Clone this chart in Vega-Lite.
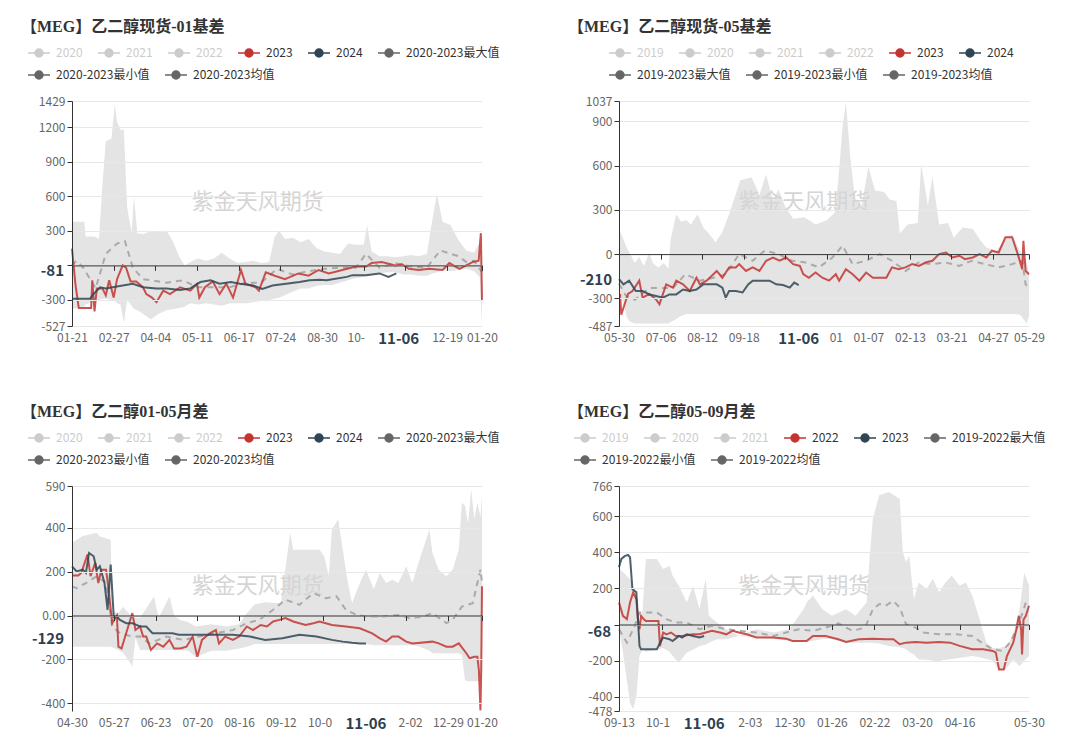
{
"$schema": "https://vega.github.io/schema/vega-lite/v6.json",
"background": "white",
"padding": {"left": 21, "top": 19, "right": 0, "bottom": 0},
"columns": 2,
"spacing": {"row": 160, "column": 137},
"bounds": "flush",
"resolve": {"scale": {"color": "independent", "stroke": "independent"}, "legend": {"color": "independent", "stroke": "independent"}},
"datasets": {
"b1": [{"t":0,"lo":-380,"hi":380},{"t":11,"lo":-360,"hi":380},{"t":12,"lo":-340,"hi":250},{"t":20,"lo":-310,"hi":250},{"t":24,"lo":-300,"hi":230},{"t":27,"lo":-290,"hi":700},{"t":30,"lo":-290,"hi":1080},{"t":35,"lo":-300,"hi":1100},{"t":38,"lo":-310,"hi":1400},{"t":40,"lo":-330,"hi":1250},{"t":43,"lo":-340,"hi":1180},{"t":46,"lo":-500,"hi":1180},{"t":49,"lo":-300,"hi":500},{"t":53,"lo":-350,"hi":280},{"t":55,"lo":-380,"hi":600},{"t":58,"lo":-390,"hi":280},{"t":63,"lo":-420,"hi":270},{"t":70,"lo":-470,"hi":300},{"t":77,"lo":-420,"hi":290},{"t":84,"lo":-390,"hi":300},{"t":90,"lo":-380,"hi":200},{"t":95,"lo":-370,"hi":80},{"t":100,"lo":-360,"hi":0},{"t":105,"lo":-330,"hi":30},{"t":112,"lo":-340,"hi":60},{"t":119,"lo":-330,"hi":40},{"t":126,"lo":-340,"hi":60},{"t":133,"lo":-350,"hi":110},{"t":140,"lo":-330,"hi":60},{"t":147,"lo":-330,"hi":20},{"t":154,"lo":-330,"hi":30},{"t":161,"lo":-320,"hi":40},{"t":168,"lo":-310,"hi":20},{"t":175,"lo":-300,"hi":30},{"t":180,"lo":-290,"hi":250},{"t":184,"lo":-280,"hi":300},{"t":189,"lo":-260,"hi":230},{"t":196,"lo":-230,"hi":240},{"t":203,"lo":-200,"hi":200},{"t":210,"lo":-200,"hi":230},{"t":217,"lo":-180,"hi":150},{"t":224,"lo":-170,"hi":120},{"t":231,"lo":-170,"hi":110},{"t":238,"lo":-150,"hi":100},{"t":245,"lo":-130,"hi":190},{"t":252,"lo":-110,"hi":180},{"t":259,"lo":-100,"hi":180},{"t":262,"lo":-90,"hi":350},{"t":266,"lo":-80,"hi":120},{"t":273,"lo":-70,"hi":80},{"t":280,"lo":-60,"hi":80},{"t":287,"lo":-60,"hi":70},{"t":294,"lo":-80,"hi":80},{"t":301,"lo":-80,"hi":90},{"t":308,"lo":-90,"hi":80},{"t":315,"lo":-90,"hi":100},{"t":320,"lo":-70,"hi":400},{"t":324,"lo":-60,"hi":620},{"t":329,"lo":-40,"hi":380},{"t":336,"lo":-50,"hi":350},{"t":343,"lo":-40,"hi":220},{"t":350,"lo":-30,"hi":130},{"t":357,"lo":-50,"hi":110},{"t":362,"lo":-100,"hi":200},{"t":364,"lo":-527,"hi":90}],
"m1": [{"t":0,"v":0},{"t":4,"v":40},{"t":10,"v":-20},{"t":21,"v":-200},{"t":30,"v":100},{"t":40,"v":190},{"t":47,"v":210},{"t":54,"v":-20},{"t":63,"v":-120},{"t":84,"v":-150},{"t":98,"v":-130},{"t":112,"v":-190},{"t":126,"v":-190},{"t":140,"v":-190},{"t":154,"v":-150},{"t":168,"v":-150},{"t":182,"v":-30},{"t":196,"v":-80},{"t":210,"v":-50},{"t":224,"v":-30},{"t":238,"v":-20},{"t":252,"v":-20},{"t":261,"v":100},{"t":273,"v":-20},{"t":287,"v":20},{"t":301,"v":-10},{"t":315,"v":-20},{"t":327,"v":130},{"t":343,"v":80},{"t":350,"v":30},{"t":357,"v":40},{"t":364,"v":-60}],
"l1": [{"s":"2023","t":0,"v":145},{"s":"2023","t":3,"v":-160},{"s":"2023","t":6,"v":-370},{"s":"2023","t":17,"v":-370},{"s":"2023","t":18,"v":-130},{"s":"2023","t":20,"v":-400},{"s":"2023","t":22,"v":-200},{"s":"2023","t":27,"v":-200},{"s":"2023","t":30,"v":-260},{"s":"2023","t":33,"v":-130},{"s":"2023","t":37,"v":-280},{"s":"2023","t":40,"v":-120},{"s":"2023","t":45,"v":0},{"s":"2023","t":48,"v":-20},{"s":"2023","t":52,"v":-140},{"s":"2023","t":57,"v":-140},{"s":"2023","t":63,"v":-190},{"s":"2023","t":66,"v":-250},{"s":"2023","t":71,"v":-280},{"s":"2023","t":75,"v":-320},{"s":"2023","t":81,"v":-220},{"s":"2023","t":87,"v":-250},{"s":"2023","t":96,"v":-190},{"s":"2023","t":105,"v":-220},{"s":"2023","t":111,"v":-160},{"s":"2023","t":113,"v":-280},{"s":"2023","t":118,"v":-190},{"s":"2023","t":125,"v":-140},{"s":"2023","t":131,"v":-250},{"s":"2023","t":137,"v":-160},{"s":"2023","t":143,"v":-280},{"s":"2023","t":150,"v":-40},{"s":"2023","t":154,"v":-160},{"s":"2023","t":163,"v":-190},{"s":"2023","t":166,"v":-220},{"s":"2023","t":169,"v":-140},{"s":"2023","t":172,"v":-60},{"s":"2023","t":180,"v":-90},{"s":"2023","t":189,"v":-120},{"s":"2023","t":201,"v":-70},{"s":"2023","t":210,"v":-90},{"s":"2023","t":219,"v":-40},{"s":"2023","t":228,"v":-70},{"s":"2023","t":240,"v":-40},{"s":"2023","t":252,"v":-10},{"s":"2023","t":261,"v":-10},{"s":"2023","t":266,"v":20},{"s":"2023","t":275,"v":30},{"s":"2023","t":287,"v":0},{"s":"2023","t":293,"v":10},{"s":"2023","t":299,"v":-30},{"s":"2023","t":308,"v":-40},{"s":"2023","t":317,"v":-30},{"s":"2023","t":329,"v":-40},{"s":"2023","t":335,"v":20},{"s":"2023","t":344,"v":-30},{"s":"2023","t":350,"v":0},{"s":"2023","t":356,"v":30},{"s":"2023","t":361,"v":40},{"s":"2023","t":363,"v":280},{"s":"2023","t":364,"v":-300},
{"s":"2024","t":0,"v":-290},{"s":"2024","t":16,"v":-290},{"s":"2024","t":19,"v":-250},{"s":"2024","t":25,"v":-190},{"s":"2024","t":30,"v":-200},{"s":"2024","t":45,"v":-175},{"s":"2024","t":54,"v":-160},{"s":"2024","t":63,"v":-190},{"s":"2024","t":75,"v":-200},{"s":"2024","t":84,"v":-200},{"s":"2024","t":96,"v":-215},{"s":"2024","t":105,"v":-200},{"s":"2024","t":114,"v":-145},{"s":"2024","t":123,"v":-130},{"s":"2024","t":131,"v":-160},{"s":"2024","t":141,"v":-145},{"s":"2024","t":149,"v":-160},{"s":"2024","t":161,"v":-175},{"s":"2024","t":169,"v":-205},{"s":"2024","t":178,"v":-175},{"s":"2024","t":190,"v":-160},{"s":"2024","t":202,"v":-145},{"s":"2024","t":211,"v":-130},{"s":"2024","t":220,"v":-125},{"s":"2024","t":226,"v":-130},{"s":"2024","t":244,"v":-100},{"s":"2024","t":249,"v":-85},{"s":"2024","t":261,"v":-85},{"s":"2024","t":273,"v":-70},{"s":"2024","t":281,"v":-100},{"s":"2024","t":288,"v":-70}],
"b2": [{"t":0,"lo":-250,"hi":170},{"t":3,"lo":-300,"hi":120},{"t":7,"lo":-430,"hi":40},{"t":10,"lo":-460,"hi":0},{"t":14,"lo":-470,"hi":-60},{"t":18,"lo":-470,"hi":-20},{"t":22,"lo":-470,"hi":-80},{"t":27,"lo":-470,"hi":10},{"t":30,"lo":-470,"hi":-60},{"t":35,"lo":-470,"hi":-90},{"t":40,"lo":-470,"hi":-60},{"t":44,"lo":-470,"hi":-100},{"t":46,"lo":-460,"hi":100},{"t":51,"lo":-440,"hi":270},{"t":55,"lo":-420,"hi":220},{"t":60,"lo":-405,"hi":230},{"t":64,"lo":-405,"hi":200},{"t":70,"lo":-405,"hi":270},{"t":75,"lo":-405,"hi":180},{"t":80,"lo":-405,"hi":140},{"t":86,"lo":-405,"hi":80},{"t":92,"lo":-405,"hi":150},{"t":98,"lo":-405,"hi":270},{"t":108,"lo":-405,"hi":500},{"t":118,"lo":-405,"hi":520},{"t":125,"lo":-405,"hi":400},{"t":131,"lo":-405,"hi":540},{"t":137,"lo":-405,"hi":360},{"t":142,"lo":-405,"hi":440},{"t":148,"lo":-405,"hi":320},{"t":155,"lo":-405,"hi":240},{"t":165,"lo":-405,"hi":250},{"t":175,"lo":-405,"hi":200},{"t":185,"lo":-405,"hi":230},{"t":192,"lo":-405,"hi":280},{"t":195,"lo":-405,"hi":480},{"t":199,"lo":-405,"hi":860},{"t":202,"lo":-405,"hi":1030},{"t":206,"lo":-405,"hi":650},{"t":210,"lo":-405,"hi":380},{"t":216,"lo":-405,"hi":330},{"t":222,"lo":-405,"hi":590},{"t":228,"lo":-405,"hi":430},{"t":236,"lo":-405,"hi":420},{"t":241,"lo":-405,"hi":370},{"t":247,"lo":-405,"hi":360},{"t":250,"lo":-405,"hi":140},{"t":257,"lo":-405,"hi":200},{"t":266,"lo":-405,"hi":210},{"t":269,"lo":-405,"hi":610},{"t":275,"lo":-405,"hi":330},{"t":279,"lo":-405,"hi":525},{"t":285,"lo":-405,"hi":200},{"t":293,"lo":-405,"hi":210},{"t":298,"lo":-405,"hi":110},{"t":306,"lo":-405,"hi":180},{"t":315,"lo":-405,"hi":170},{"t":322,"lo":-405,"hi":90},{"t":327,"lo":-405,"hi":45},{"t":336,"lo":-405,"hi":20},{"t":345,"lo":-405,"hi":120},{"t":350,"lo":-405,"hi":130},{"t":357,"lo":-410,"hi":20},{"t":363,"lo":-470,"hi":-60},{"t":365,"lo":-420,"hi":-130}],
"m2": [{"t":0,"v":-200},{"t":6,"v":-280},{"t":14,"v":-310},{"t":27,"v":-230},{"t":48,"v":-230},{"t":59,"v":-136},{"t":72,"v":-180},{"t":84,"v":-160},{"t":95,"v":-136},{"t":107,"v":0},{"t":119,"v":-45},{"t":130,"v":25},{"t":142,"v":0},{"t":154,"v":-45},{"t":166,"v":-57},{"t":178,"v":-90},{"t":190,"v":-23},{"t":199,"v":57},{"t":208,"v":-68},{"t":220,"v":-45},{"t":232,"v":0},{"t":243,"v":-45},{"t":255,"v":-114},{"t":267,"v":-57},{"t":279,"v":-68},{"t":291,"v":-57},{"t":303,"v":-80},{"t":314,"v":-45},{"t":326,"v":-68},{"t":338,"v":-90},{"t":350,"v":-68},{"t":359,"v":-45},{"t":362,"v":-205},{"t":365,"v":-230}],
"l2": [{"s":"2023","t":1,"v":-270},{"s":"2023","t":2,"v":-410},{"s":"2023","t":5,"v":-340},{"s":"2023","t":8,"v":-270},{"s":"2023","t":12,"v":-250},{"s":"2023","t":18,"v":-180},{"s":"2023","t":21,"v":-295},{"s":"2023","t":27,"v":-270},{"s":"2023","t":33,"v":-307},{"s":"2023","t":36,"v":-340},{"s":"2023","t":42,"v":-205},{"s":"2023","t":48,"v":-227},{"s":"2023","t":51,"v":-180},{"s":"2023","t":57,"v":-205},{"s":"2023","t":63,"v":-250},{"s":"2023","t":69,"v":-160},{"s":"2023","t":72,"v":-205},{"s":"2023","t":78,"v":-180},{"s":"2023","t":84,"v":-136},{"s":"2023","t":87,"v":-114},{"s":"2023","t":92,"v":-160},{"s":"2023","t":98,"v":-90},{"s":"2023","t":104,"v":-90},{"s":"2023","t":107,"v":-68},{"s":"2023","t":113,"v":-114},{"s":"2023","t":119,"v":-90},{"s":"2023","t":125,"v":-114},{"s":"2023","t":131,"v":-45},{"s":"2023","t":137,"v":-23},{"s":"2023","t":143,"v":-45},{"s":"2023","t":149,"v":-23},{"s":"2023","t":155,"v":-68},{"s":"2023","t":161,"v":-80},{"s":"2023","t":164,"v":-136},{"s":"2023","t":169,"v":-160},{"s":"2023","t":175,"v":-125},{"s":"2023","t":181,"v":-160},{"s":"2023","t":187,"v":-180},{"s":"2023","t":193,"v":-136},{"s":"2023","t":196,"v":-180},{"s":"2023","t":202,"v":-102},{"s":"2023","t":208,"v":-136},{"s":"2023","t":214,"v":-180},{"s":"2023","t":220,"v":-125},{"s":"2023","t":226,"v":-160},{"s":"2023","t":238,"v":-160},{"s":"2023","t":243,"v":-90},{"s":"2023","t":249,"v":-102},{"s":"2023","t":255,"v":-90},{"s":"2023","t":261,"v":-68},{"s":"2023","t":267,"v":-80},{"s":"2023","t":273,"v":-57},{"s":"2023","t":279,"v":-45},{"s":"2023","t":285,"v":0},{"s":"2023","t":291,"v":11},{"s":"2023","t":297,"v":-23},{"s":"2023","t":303,"v":-11},{"s":"2023","t":308,"v":-34},{"s":"2023","t":315,"v":-23},{"s":"2023","t":321,"v":0},{"s":"2023","t":327,"v":-23},{"s":"2023","t":332,"v":23},{"s":"2023","t":338,"v":11},{"s":"2023","t":344,"v":114},{"s":"2023","t":350,"v":114},{"s":"2023","t":355,"v":0},{"s":"2023","t":359,"v":-102},{"s":"2023","t":360,"v":90},{"s":"2023","t":362,"v":-114},{"s":"2023","t":365,"v":-136},
{"s":"2024","t":0,"v":-170},{"s":"2024","t":4,"v":-205},{"s":"2024","t":9,"v":-180},{"s":"2024","t":15,"v":-250},{"s":"2024","t":21,"v":-250},{"s":"2024","t":27,"v":-273},{"s":"2024","t":33,"v":-284},{"s":"2024","t":39,"v":-295},{"s":"2024","t":45,"v":-273},{"s":"2024","t":51,"v":-273},{"s":"2024","t":57,"v":-240},{"s":"2024","t":63,"v":-250},{"s":"2024","t":69,"v":-240},{"s":"2024","t":75,"v":-205},{"s":"2024","t":81,"v":-205},{"s":"2024","t":87,"v":-205},{"s":"2024","t":92,"v":-227},{"s":"2024","t":95,"v":-295},{"s":"2024","t":98,"v":-250},{"s":"2024","t":104,"v":-250},{"s":"2024","t":110,"v":-260},{"s":"2024","t":115,"v":-205},{"s":"2024","t":119,"v":-180},{"s":"2024","t":134,"v":-180},{"s":"2024","t":140,"v":-205},{"s":"2024","t":146,"v":-210},{"s":"2024","t":152,"v":-227},{"s":"2024","t":156,"v":-193},{"s":"2024","t":160,"v":-210}],
"b3": [{"t":0,"lo":-142,"hi":331},{"t":7,"lo":-142,"hi":362},{"t":16,"lo":-142,"hi":377},{"t":18,"lo":-142,"hi":360},{"t":25,"lo":-142,"hi":345},{"t":26,"lo":-145,"hi":20},{"t":30,"lo":-157,"hi":10},{"t":33,"lo":-170,"hi":40},{"t":38,"lo":-220,"hi":0},{"t":39,"lo":-234,"hi":-10},{"t":41,"lo":-100,"hi":-10},{"t":44,"lo":-157,"hi":-10},{"t":53,"lo":-157,"hi":87},{"t":56,"lo":-157,"hi":-10},{"t":63,"lo":-157,"hi":87},{"t":66,"lo":-157,"hi":0},{"t":70,"lo":-157,"hi":-20},{"t":75,"lo":-160,"hi":-30},{"t":80,"lo":-190,"hi":-50},{"t":90,"lo":-160,"hi":-40},{"t":100,"lo":-160,"hi":-50},{"t":108,"lo":-150,"hi":-40},{"t":113,"lo":-142,"hi":10},{"t":118,"lo":-130,"hi":50},{"t":125,"lo":-130,"hi":60},{"t":135,"lo":-130,"hi":56},{"t":141,"lo":-130,"hi":377},{"t":143,"lo":-130,"hi":300},{"t":150,"lo":-130,"hi":300},{"t":160,"lo":-130,"hi":300},{"t":163,"lo":-130,"hi":270},{"t":166,"lo":-130,"hi":180},{"t":168,"lo":-130,"hi":392},{"t":172,"lo":-130,"hi":438},{"t":175,"lo":-130,"hi":300},{"t":178,"lo":-130,"hi":163},{"t":181,"lo":-130,"hi":56},{"t":186,"lo":-130,"hi":148},{"t":190,"lo":-130,"hi":209},{"t":195,"lo":-135,"hi":120},{"t":199,"lo":-135,"hi":194},{"t":203,"lo":-135,"hi":148},{"t":207,"lo":-135,"hi":163},{"t":211,"lo":-135,"hi":148},{"t":216,"lo":-135,"hi":224},{"t":220,"lo":-135,"hi":148},{"t":224,"lo":-140,"hi":240},{"t":231,"lo":-160,"hi":392},{"t":233,"lo":-172,"hi":285},{"t":237,"lo":-172,"hi":209},{"t":242,"lo":-172,"hi":179},{"t":246,"lo":-172,"hi":209},{"t":250,"lo":-172,"hi":300},{"t":252,"lo":-180,"hi":514},{"t":254,"lo":-295,"hi":500},{"t":256,"lo":-300,"hi":420},{"t":258,"lo":-300,"hi":575},{"t":260,"lo":-300,"hi":440},{"t":262,"lo":-300,"hi":514},{"t":264,"lo":-300,"hi":450},{"t":265,"lo":-250,"hi":545}],
"m3": [{"t":0,"v":133},{"t":3,"v":125},{"t":9,"v":148},{"t":16,"v":179},{"t":22,"v":148},{"t":26,"v":-50},{"t":31,"v":-81},{"t":39,"v":-96},{"t":44,"v":-96},{"t":50,"v":-127},{"t":61,"v":-96},{"t":72,"v":-111},{"t":82,"v":-96},{"t":93,"v":-81},{"t":104,"v":-66},{"t":113,"v":-35},{"t":121,"v":-20},{"t":130,"v":26},{"t":138,"v":72},{"t":147,"v":49},{"t":156,"v":102},{"t":164,"v":79},{"t":171,"v":87},{"t":177,"v":26},{"t":184,"v":3},{"t":190,"v":-5},{"t":201,"v":-5},{"t":212,"v":3},{"t":218,"v":-12},{"t":227,"v":-5},{"t":233,"v":11},{"t":242,"v":-35},{"t":246,"v":-20},{"t":252,"v":41},{"t":259,"v":56},{"t":262,"v":148},{"t":264,"v":209},{"t":265,"v":150}],
"l3": [{"s":"2023","t":0,"v":182},{"s":"2023","t":4,"v":182},{"s":"2023","t":6,"v":194},{"s":"2023","t":10,"v":278},{"s":"2023","t":12,"v":179},{"s":"2023","t":15,"v":240},{"s":"2023","t":17,"v":148},{"s":"2023","t":19,"v":209},{"s":"2023","t":22,"v":209},{"s":"2023","t":23,"v":156},{"s":"2023","t":26,"v":-35},{"s":"2023","t":29,"v":0},{"s":"2023","t":30,"v":-142},{"s":"2023","t":32,"v":-150},{"s":"2023","t":35,"v":-81},{"s":"2023","t":39,"v":11},{"s":"2023","t":41,"v":-66},{"s":"2023","t":44,"v":-50},{"s":"2023","t":46,"v":-96},{"s":"2023","t":48,"v":-96},{"s":"2023","t":51,"v":-157},{"s":"2023","t":55,"v":-127},{"s":"2023","t":59,"v":-142},{"s":"2023","t":63,"v":-111},{"s":"2023","t":66,"v":-150},{"s":"2023","t":70,"v":-150},{"s":"2023","t":74,"v":-142},{"s":"2023","t":78,"v":-96},{"s":"2023","t":81,"v":-188},{"s":"2023","t":84,"v":-111},{"s":"2023","t":89,"v":-81},{"s":"2023","t":93,"v":-66},{"s":"2023","t":95,"v":-127},{"s":"2023","t":99,"v":-96},{"s":"2023","t":104,"v":-111},{"s":"2023","t":108,"v":-96},{"s":"2023","t":113,"v":-50},{"s":"2023","t":117,"v":-66},{"s":"2023","t":122,"v":-43},{"s":"2023","t":126,"v":-50},{"s":"2023","t":130,"v":-27},{"s":"2023","t":134,"v":-20},{"s":"2023","t":138,"v":-12},{"s":"2023","t":143,"v":-27},{"s":"2023","t":147,"v":-35},{"s":"2023","t":151,"v":-43},{"s":"2023","t":156,"v":-35},{"s":"2023","t":160,"v":-27},{"s":"2023","t":164,"v":-35},{"s":"2023","t":168,"v":-43},{"s":"2023","t":177,"v":-50},{"s":"2023","t":186,"v":-58},{"s":"2023","t":194,"v":-81},{"s":"2023","t":199,"v":-104},{"s":"2023","t":203,"v":-119},{"s":"2023","t":207,"v":-96},{"s":"2023","t":211,"v":-96},{"s":"2023","t":216,"v":-119},{"s":"2023","t":220,"v":-127},{"s":"2023","t":233,"v":-119},{"s":"2023","t":237,"v":-127},{"s":"2023","t":242,"v":-142},{"s":"2023","t":246,"v":-142},{"s":"2023","t":250,"v":-127},{"s":"2023","t":255,"v":-173},{"s":"2023","t":257,"v":-195},{"s":"2023","t":260,"v":-188},{"s":"2023","t":262,"v":-188},{"s":"2023","t":263,"v":-250},{"s":"2023","t":264,"v":-432},{"s":"2023","t":264.5,"v":-250},{"s":"2023","t":265,"v":133},
{"s":"2024","t":0,"v":224},{"s":"2024","t":3,"v":201},{"s":"2024","t":7,"v":209},{"s":"2024","t":9,"v":194},{"s":"2024","t":11,"v":285},{"s":"2024","t":14,"v":270},{"s":"2024","t":16,"v":209},{"s":"2024","t":18,"v":224},{"s":"2024","t":21,"v":148},{"s":"2024","t":23,"v":26},{"s":"2024","t":25,"v":232},{"s":"2024","t":27,"v":-7},{"s":"2024","t":29,"v":-5},{"s":"2024","t":31,"v":-20},{"s":"2024","t":35,"v":-35},{"s":"2024","t":39,"v":-35},{"s":"2024","t":44,"v":-50},{"s":"2024","t":48,"v":-50},{"s":"2024","t":52,"v":-81},{"s":"2024","t":56,"v":-81},{"s":"2024","t":61,"v":-81},{"s":"2024","t":65,"v":-81},{"s":"2024","t":69,"v":-88},{"s":"2024","t":74,"v":-88},{"s":"2024","t":82,"v":-88},{"s":"2024","t":93,"v":-88},{"s":"2024","t":104,"v":-88},{"s":"2024","t":115,"v":-96},{"s":"2024","t":125,"v":-111},{"s":"2024","t":136,"v":-104},{"s":"2024","t":147,"v":-88},{"s":"2024","t":158,"v":-96},{"s":"2024","t":168,"v":-111},{"s":"2024","t":175,"v":-119},{"s":"2024","t":181,"v":-124},{"s":"2024","t":186,"v":-127},{"s":"2024","t":190,"v":-127}],
"b4": [{"t":0,"lo":-26,"hi":307},{"t":2.5,"lo":-155,"hi":290},{"t":7,"lo":-433,"hi":250},{"t":9,"lo":-470,"hi":200},{"t":11,"lo":-396,"hi":178},{"t":13,"lo":-174,"hi":-7},{"t":15,"lo":-137,"hi":85},{"t":17,"lo":-150,"hi":363},{"t":24,"lo":-140,"hi":363},{"t":28,"lo":-130,"hi":307},{"t":32,"lo":-150,"hi":325},{"t":34,"lo":-174,"hi":270},{"t":38,"lo":-211,"hi":215},{"t":43,"lo":-155,"hi":122},{"t":47,"lo":-140,"hi":215},{"t":51,"lo":-118,"hi":85},{"t":55,"lo":-110,"hi":252},{"t":57,"lo":-100,"hi":48},{"t":62,"lo":-81,"hi":11},{"t":68,"lo":-81,"hi":-26},{"t":76,"lo":-63,"hi":-63},{"t":87,"lo":-70,"hi":-26},{"t":98,"lo":-80,"hi":-44},{"t":108,"lo":-90,"hi":-26},{"t":117,"lo":-95,"hi":85},{"t":119,"lo":-95,"hi":122},{"t":123,"lo":-90,"hi":160},{"t":129,"lo":-80,"hi":85},{"t":135,"lo":-80,"hi":48},{"t":144,"lo":-100,"hi":85},{"t":150,"lo":-100,"hi":48},{"t":157,"lo":-100,"hi":122},{"t":159,"lo":-100,"hi":381},{"t":161,"lo":-100,"hi":585},{"t":165,"lo":-105,"hi":715},{"t":171,"lo":-118,"hi":733},{"t":178,"lo":-125,"hi":696},{"t":180,"lo":-130,"hi":400},{"t":182,"lo":-137,"hi":344},{"t":184,"lo":-150,"hi":381},{"t":187,"lo":-165,"hi":140},{"t":190,"lo":-193,"hi":233},{"t":195,"lo":-195,"hi":196},{"t":199,"lo":-200,"hi":252},{"t":203,"lo":-202,"hi":178},{"t":207,"lo":-195,"hi":233},{"t":211,"lo":-190,"hi":270},{"t":216,"lo":-183,"hi":215},{"t":220,"lo":-180,"hi":233},{"t":224,"lo":-174,"hi":160},{"t":228,"lo":-180,"hi":48},{"t":233,"lo":-190,"hi":-100},{"t":237,"lo":-200,"hi":-130},{"t":241,"lo":-250,"hi":-130},{"t":245,"lo":-250,"hi":-120},{"t":250,"lo":-193,"hi":-63},{"t":254,"lo":-230,"hi":85},{"t":257,"lo":-200,"hi":287},{"t":260,"lo":-174,"hi":215}],
"m4": [{"t":0,"v":-26},{"t":5,"v":-100},{"t":10,"v":-7},{"t":13,"v":67},{"t":17,"v":67},{"t":24,"v":67},{"t":30,"v":30},{"t":36,"v":11},{"t":43,"v":11},{"t":51,"v":-26},{"t":59,"v":-7},{"t":68,"v":-26},{"t":76,"v":-35},{"t":87,"v":-44},{"t":98,"v":-63},{"t":106,"v":-44},{"t":114,"v":-26},{"t":123,"v":-35},{"t":131,"v":-17},{"t":139,"v":7},{"t":148,"v":-35},{"t":156,"v":-17},{"t":161,"v":85},{"t":165,"v":113},{"t":169,"v":104},{"t":174,"v":131},{"t":178,"v":94},{"t":182,"v":2},{"t":188,"v":-17},{"t":193,"v":-44},{"t":203,"v":-54},{"t":214,"v":-54},{"t":224,"v":-63},{"t":230,"v":-100},{"t":237,"v":-137},{"t":243,"v":-146},{"t":248,"v":-100},{"t":252,"v":-26},{"t":256,"v":67},{"t":258,"v":122},{"t":260,"v":122}],
"l4": [{"s":"2022","t":0,"v":122},{"s":"2022","t":2.5,"v":48},{"s":"2022","t":5,"v":30},{"s":"2022","t":7,"v":122},{"s":"2022","t":9,"v":178},{"s":"2022","t":11,"v":140},{"s":"2022","t":12,"v":30},{"s":"2022","t":13,"v":-26},{"s":"2022","t":14,"v":48},{"s":"2022","t":15.6,"v":30},{"s":"2022","t":17,"v":20},{"s":"2022","t":25,"v":20},{"s":"2022","t":26,"v":-119},{"s":"2022","t":28,"v":-44},{"s":"2022","t":30,"v":-54},{"s":"2022","t":33,"v":-44},{"s":"2022","t":36,"v":-63},{"s":"2022","t":40,"v":-63},{"s":"2022","t":47,"v":-54},{"s":"2022","t":51,"v":-54},{"s":"2022","t":55,"v":-44},{"s":"2022","t":59,"v":-35},{"s":"2022","t":64,"v":-44},{"s":"2022","t":68,"v":-54},{"s":"2022","t":72,"v":-35},{"s":"2022","t":76,"v":-44},{"s":"2022","t":81,"v":-54},{"s":"2022","t":87,"v":-72},{"s":"2022","t":98,"v":-72},{"s":"2022","t":106,"v":-78},{"s":"2022","t":110,"v":-91},{"s":"2022","t":119,"v":-91},{"s":"2022","t":123,"v":-63},{"s":"2022","t":131,"v":-63},{"s":"2022","t":139,"v":-81},{"s":"2022","t":144,"v":-96},{"s":"2022","t":152,"v":-81},{"s":"2022","t":161,"v":-78},{"s":"2022","t":169,"v":-81},{"s":"2022","t":174,"v":-81},{"s":"2022","t":178,"v":-109},{"s":"2022","t":182,"v":-100},{"s":"2022","t":188,"v":-96},{"s":"2022","t":195,"v":-100},{"s":"2022","t":203,"v":-96},{"s":"2022","t":210,"v":-100},{"s":"2022","t":216,"v":-118},{"s":"2022","t":224,"v":-137},{"s":"2022","t":231,"v":-137},{"s":"2022","t":237,"v":-146},{"s":"2022","t":239,"v":-155},{"s":"2022","t":241,"v":-248},{"s":"2022","t":244,"v":-248},{"s":"2022","t":246,"v":-174},{"s":"2022","t":250,"v":-100},{"s":"2022","t":252,"v":-26},{"s":"2022","t":253.5,"v":48},{"s":"2022","t":255,"v":-26},{"s":"2022","t":255.6,"v":-165},{"s":"2022","t":256.5,"v":26},{"s":"2022","t":258,"v":48},{"s":"2022","t":260,"v":104},
{"s":"2023","t":0,"v":317},{"s":"2023","t":1.5,"v":363},{"s":"2023","t":3.6,"v":378},{"s":"2023","t":5.7,"v":385},{"s":"2023","t":7,"v":372},{"s":"2023","t":8.5,"v":196},{"s":"2023","t":11,"v":178},{"s":"2023","t":13,"v":-119},{"s":"2023","t":14,"v":-137},{"s":"2023","t":17,"v":-137},{"s":"2023","t":24,"v":-137},{"s":"2023","t":26,"v":-100},{"s":"2023","t":28,"v":-72},{"s":"2023","t":32,"v":-81},{"s":"2023","t":34,"v":-91},{"s":"2023","t":38,"v":-63},{"s":"2023","t":40,"v":-72},{"s":"2023","t":43,"v":-54},{"s":"2023","t":47,"v":-63},{"s":"2023","t":51,"v":-72},{"s":"2023","t":54,"v":-63}]
},
"concat": [
{
"width": 410, "height": 225,
"title": "【MEG】乙二醇现货-01基差",
"encoding": {
"x": {"field": "t", "type": "quantitative", "scale": {"domain": [0, 364], "nice": false, "zero": false}, "axis": {"title": null, "zindex": 1, "values": [0,37,74,111,148,185,222,259,296,333,364], "labelExpr": "['01-21','02-27','04-04','05-11','06-17','07-24','08-30','10-','','12-19','01-20'][indexof([0,37,74,111,148,185,222,259,296,333,364], datum.value)]", "offset": -60.6, "labelPadding": 61.6, "grid": false, "labelOffset": {"condition": {"test": "datum.value==259", "value": -8}, "value": 0}}},
"y": {"field": "v", "type": "quantitative", "scale": {"domain": [-527, 1429], "nice": false, "zero": false}, "axis": {"title": null, "zindex": 1, "values": [-527,-300,0,300,600,900,1200,1429], "labelExpr": "datum.value==0?'':''+datum.value", "grid": true}}
},
"layer": [
{"data": {"name": "b1"}, "mark": {"type": "area", "color": "#e4e4e4"}, "encoding": {"y": {"field": "lo", "type": "quantitative", "scale": {"domain": [-527, 1429], "nice": false, "zero": false}, "axis": {"title": null, "zindex": 1, "values": [-527,-300,0,300,600,900,1200,1429], "labelExpr": "datum.value==0?'':''+datum.value", "grid": true}}, "y2": {"field": "hi"}}},
{"data": {"values": [{"t": 165, "v": 550, "lab": "紫金天风期货"}]}, "mark": {"type": "text", "fontSize": 22, "color": "#d5d5d5"}, "encoding": {"text": {"field": "lab"}}},
{"data": {"name": "m1"}, "mark": {"type": "line", "color": "#aaaaaa", "strokeWidth": 2, "strokeDash": [6, 5]}, "encoding": {}},
{"data": {"name": "l1"}, "mark": {"type": "line", "strokeWidth": 2, "opacity": 0.85}, "encoding": {"color": {"field": "s", "type": "nominal", "scale": {"domain": ["2020","2021","2022","2023","2024","2020-2023最大值"], "range": ["#cccccc","#cccccc","#cccccc","#c23531","#2f4554","#666666"]}, "legend": {"title": null, "orient": "none", "legendX": -45, "legendY": -60, "direction": "horizontal", "symbolType": "M-1,0L1,0M0.36,0A0.36,0.36,0,1,1,-0.36,0A0.36,0.36,0,1,1,0.36,0Z", "symbolSize": 484, "symbolStrokeWidth": 1.5, "symbolOpacity": 1, "labelFontSize": 12, "labelOffset": 5, "columnPadding": 12, "labelColor": "#333333", "encode": {"symbols": {"update": {"fill": {"signal": "datum.value=='2023'?'#c23531':datum.value=='2024'?'#2f4554':length(datum.value)==4?'#cccccc':'#666666'"}}}, "labels": {"update": {"fill": {"signal": "length(datum.value)==4&&datum.value<'2023'?'#cccccc':'#333333'"}}}}}}}},
{"data": {"values": [{"s": "2020-2023最小值", "t": 0, "v": 0}, {"s": "2020-2023均值", "t": 0, "v": 0}]}, "mark": {"type": "line", "strokeWidth": 2}, "encoding": {"stroke": {"field": "s", "type": "nominal", "scale": {"domain": ["2020-2023最小值", "2020-2023均值"], "range": ["#666666", "#666666"]}, "legend": {"title": null, "orient": "none", "legendX": -45, "legendY": -38, "direction": "horizontal", "symbolType": "M-1,0L1,0M0.36,0A0.36,0.36,0,1,1,-0.36,0A0.36,0.36,0,1,1,0.36,0Z", "symbolSize": 484, "symbolStrokeWidth": 1.5, "symbolOpacity": 1, "labelFontSize": 12, "labelOffset": 5, "columnPadding": 12, "labelColor": "#333333", "encode": {"symbols": {"update": {"fill": {"signal": "'#666666'"}}}}}}}},
{"data": {"values": [{"t": 0, "v": -81, "lab": "-81"}]}, "mark": {"type": "text", "align": "right", "dx": -8, "dy": -4, "fontSize": 15, "fontWeight": "bold", "color": "#2f3f4f"}, "encoding": {"text": {"field": "lab"}}},
{"data": {"values": [{"t": 290, "v": -527, "lab": "11-06"}]}, "mark": {"type": "text", "baseline": "middle", "dy": 13, "fontSize": 15, "fontWeight": "bold", "color": "#2f3f4f"}, "encoding": {"text": {"field": "lab"}}}
]
},
{
"width": 410, "height": 225,
"title": "【MEG】乙二醇现货-05基差",
"encoding": {
"x": {"field": "t", "type": "quantitative", "scale": {"domain": [0, 365], "nice": false, "zero": false}, "axis": {"title": null, "zindex": 1, "values": [0,37,74,111,148,185,222,259,296,333,365], "labelExpr": "['05-30','07-06','08-12','09-18','','01','01-07','02-13','03-21','04-27','05-29'][indexof([0,37,74,111,148,185,222,259,296,333,365], datum.value)]", "offset": -71.9, "labelPadding": 72.9, "grid": false, "labelOffset": {"condition": {"test": "datum.value==185", "value": 9}, "value": 0}}},
"y": {"field": "v", "type": "quantitative", "scale": {"domain": [-487, 1037], "nice": false, "zero": false}, "axis": {"title": null, "zindex": 1, "values": [-487,-300,0,300,600,900,1037], "labelExpr": "''+datum.value", "grid": true}}
},
"layer": [
{"data": {"name": "b2"}, "mark": {"type": "area", "color": "#e4e4e4"}, "encoding": {"y": {"field": "lo", "type": "quantitative", "scale": {"domain": [-487, 1037], "nice": false, "zero": false}, "axis": {"title": null, "zindex": 1, "values": [-487,-300,0,300,600,900,1037], "labelExpr": "''+datum.value", "grid": true}}, "y2": {"field": "hi"}}},
{"data": {"values": [{"t": 165, "v": 352, "lab": "紫金天风期货"}]}, "mark": {"type": "text", "fontSize": 22, "color": "#d5d5d5"}, "encoding": {"text": {"field": "lab"}}},
{"data": {"name": "m2"}, "mark": {"type": "line", "color": "#aaaaaa", "strokeWidth": 2, "strokeDash": [6, 5]}, "encoding": {}},
{"data": {"name": "l2"}, "mark": {"type": "line", "strokeWidth": 2, "opacity": 0.85}, "encoding": {"color": {"field": "s", "type": "nominal", "scale": {"domain": ["2019","2020","2021","2022","2023","2024"], "range": ["#cccccc","#cccccc","#cccccc","#cccccc","#c23531","#2f4554"]}, "legend": {"title": null, "orient": "none", "legendX": -11, "legendY": -60, "direction": "horizontal", "symbolType": "M-1,0L1,0M0.36,0A0.36,0.36,0,1,1,-0.36,0A0.36,0.36,0,1,1,0.36,0Z", "symbolSize": 484, "symbolStrokeWidth": 1.5, "symbolOpacity": 1, "labelFontSize": 12, "labelOffset": 5, "columnPadding": 12, "labelColor": "#333333", "encode": {"symbols": {"update": {"fill": {"signal": "datum.value=='2023'?'#c23531':datum.value=='2024'?'#2f4554':'#cccccc'"}}}, "labels": {"update": {"fill": {"signal": "datum.value<'2023'?'#cccccc':'#333333'"}}}}}}}},
{"data": {"values": [{"s": "2019-2023最大值", "t": 0, "v": 0}, {"s": "2019-2023最小值", "t": 0, "v": 0}, {"s": "2019-2023均值", "t": 0, "v": 0}]}, "mark": {"type": "line", "strokeWidth": 2}, "encoding": {"stroke": {"field": "s", "type": "nominal", "scale": {"domain": ["2019-2023最大值", "2019-2023最小值", "2019-2023均值"], "range": ["#666666", "#666666", "#666666"]}, "legend": {"title": null, "orient": "none", "legendX": -11, "legendY": -38, "direction": "horizontal", "symbolType": "M-1,0L1,0M0.36,0A0.36,0.36,0,1,1,-0.36,0A0.36,0.36,0,1,1,0.36,0Z", "symbolSize": 484, "symbolStrokeWidth": 1.5, "symbolOpacity": 1, "labelFontSize": 12, "labelOffset": 5, "columnPadding": 12, "labelColor": "#333333", "encode": {"symbols": {"update": {"fill": {"signal": "'#666666'"}}}}}}}},
{"data": {"values": [{"t": 0, "v": -210, "lab": "-210"}]}, "mark": {"type": "text", "align": "right", "dx": -7, "dy": -5, "fontSize": 15, "fontWeight": "bold", "color": "#2f3f4f"}, "encoding": {"text": {"field": "lab"}}},
{"data": {"values": [{"t": 160, "v": -487, "lab": "11-06"}]}, "mark": {"type": "text", "baseline": "middle", "dy": 13, "fontSize": 15, "fontWeight": "bold", "color": "#2f3f4f"}, "encoding": {"text": {"field": "lab"}}}
]
},
{
"width": 410, "height": 225,
"title": "【MEG】乙二醇01-05月差",
"encoding": {
"x": {"field": "t", "type": "quantitative", "scale": {"domain": [0, 265], "nice": false, "zero": false}, "axis": {"title": null, "zindex": 1, "values": [0,27,54,81,108,135,162,189,216,243,265], "labelExpr": "['04-30','05-27','06-23','07-20','08-16','09-12','10-0','','2-02','12-29','01-20'][indexof([0,27,54,81,108,135,162,189,216,243,265], datum.value)]", "offset": -95.5, "labelPadding": 96.5, "grid": false, "labelOffset": {"condition": [{"test": "datum.value==162", "value": -3}, {"test": "datum.value==216", "value": 4}], "value": 0}}},
"y": {"field": "v", "type": "quantitative", "scale": {"domain": [-435, 590], "nice": false, "zero": false}, "axis": {"title": null, "zindex": 1, "values": [-400,-200,0,200,400,590], "labelExpr": "datum.value==0?'0.00':''+datum.value", "grid": true}}
},
"layer": [
{"data": {"name": "b3"}, "mark": {"type": "area", "color": "#e4e4e4"}, "encoding": {"y": {"field": "lo", "type": "quantitative", "scale": {"domain": [-435, 590], "nice": false, "zero": false}, "axis": {"title": null, "zindex": 1, "values": [-400,-200,0,200,400,590], "labelExpr": "datum.value==0?'0.00':''+datum.value", "grid": true}}, "y2": {"field": "hi"}}},
{"data": {"values": [{"t": 120, "v": 133, "lab": "紫金天风期货"}]}, "mark": {"type": "text", "fontSize": 22, "color": "#d5d5d5"}, "encoding": {"text": {"field": "lab"}}},
{"data": {"name": "m3"}, "mark": {"type": "line", "color": "#aaaaaa", "strokeWidth": 2, "strokeDash": [6, 5]}, "encoding": {}},
{"data": {"name": "l3"}, "mark": {"type": "line", "strokeWidth": 2, "opacity": 0.85}, "encoding": {"color": {"field": "s", "type": "nominal", "scale": {"domain": ["2020","2021","2022","2023","2024","2020-2023最大值"], "range": ["#cccccc","#cccccc","#cccccc","#c23531","#2f4554","#666666"]}, "legend": {"title": null, "orient": "none", "legendX": -45, "legendY": -60, "direction": "horizontal", "symbolType": "M-1,0L1,0M0.36,0A0.36,0.36,0,1,1,-0.36,0A0.36,0.36,0,1,1,0.36,0Z", "symbolSize": 484, "symbolStrokeWidth": 1.5, "symbolOpacity": 1, "labelFontSize": 12, "labelOffset": 5, "columnPadding": 12, "labelColor": "#333333", "encode": {"symbols": {"update": {"fill": {"signal": "datum.value=='2023'?'#c23531':datum.value=='2024'?'#2f4554':length(datum.value)==4?'#cccccc':'#666666'"}}}, "labels": {"update": {"fill": {"signal": "length(datum.value)==4&&datum.value<'2023'?'#cccccc':'#333333'"}}}}}}}},
{"data": {"values": [{"s": "2020-2023最小值", "t": 0, "v": 0}, {"s": "2020-2023均值", "t": 0, "v": 0}]}, "mark": {"type": "line", "strokeWidth": 2}, "encoding": {"stroke": {"field": "s", "type": "nominal", "scale": {"domain": ["2020-2023最小值", "2020-2023均值"], "range": ["#666666", "#666666"]}, "legend": {"title": null, "orient": "none", "legendX": -45, "legendY": -38, "direction": "horizontal", "symbolType": "M-1,0L1,0M0.36,0A0.36,0.36,0,1,1,-0.36,0A0.36,0.36,0,1,1,0.36,0Z", "symbolSize": 484, "symbolStrokeWidth": 1.5, "symbolOpacity": 1, "labelFontSize": 12, "labelOffset": 5, "columnPadding": 12, "labelColor": "#333333", "encode": {"symbols": {"update": {"fill": {"signal": "'#666666'"}}}}}}}},
{"data": {"values": [{"t": 0, "v": -129, "lab": "-129"}]}, "mark": {"type": "text", "align": "right", "dx": -8, "dy": -5, "fontSize": 15, "fontWeight": "bold", "color": "#2f3f4f"}, "encoding": {"text": {"field": "lab"}}},
{"data": {"values": [{"t": 190, "v": -435, "lab": "11-06"}]}, "mark": {"type": "text", "baseline": "middle", "dy": 13, "fontSize": 15, "fontWeight": "bold", "color": "#2f3f4f"}, "encoding": {"text": {"field": "lab"}}}
]
},
{
"width": 410, "height": 225,
"title": "【MEG】乙二醇05-09月差",
"encoding": {
"x": {"field": "t", "type": "quantitative", "scale": {"domain": [0, 260], "nice": false, "zero": false}, "axis": {"title": null, "zindex": 1, "values": [0,27,54,81,108,135,162,189,216,260], "labelExpr": "['09-13','10-1','','2-03','12-30','01-26','02-22','03-20','04-16','05-30'][indexof([0,27,54,81,108,135,162,189,216,260], datum.value)]", "offset": -86.5, "labelPadding": 87.5, "grid": false, "labelOffset": {"condition": [{"test": "datum.value==27", "value": -4}, {"test": "datum.value==81", "value": 3}], "value": 0}}},
"y": {"field": "v", "type": "quantitative", "scale": {"domain": [-478, 766], "nice": false, "zero": false}, "axis": {"title": null, "zindex": 1, "values": [-478,-400,-200,0,200,400,600,766], "labelExpr": "datum.value==0?'':''+datum.value", "grid": true}}
},
"layer": [
{"data": {"name": "b4"}, "mark": {"type": "area", "color": "#e4e4e4"}, "encoding": {"y": {"field": "lo", "type": "quantitative", "scale": {"domain": [-478, 766], "nice": false, "zero": false}, "axis": {"title": null, "zindex": 1, "values": [-478,-400,-200,0,200,400,600,766], "labelExpr": "datum.value==0?'':''+datum.value", "grid": true}}, "y2": {"field": "hi"}}},
{"data": {"values": [{"t": 117.5, "v": 215, "lab": "紫金天风期货"}]}, "mark": {"type": "text", "fontSize": 22, "color": "#d5d5d5"}, "encoding": {"text": {"field": "lab"}}},
{"data": {"name": "m4"}, "mark": {"type": "line", "color": "#aaaaaa", "strokeWidth": 2, "strokeDash": [6, 5]}, "encoding": {}},
{"data": {"name": "l4"}, "mark": {"type": "line", "strokeWidth": 2, "opacity": 0.85}, "encoding": {"color": {"field": "s", "type": "nominal", "scale": {"domain": ["2019","2020","2021","2022","2023","2019-2022最大值"], "range": ["#cccccc","#cccccc","#cccccc","#c23531","#2f4554","#666666"]}, "legend": {"title": null, "orient": "none", "legendX": -46, "legendY": -60, "direction": "horizontal", "symbolType": "M-1,0L1,0M0.36,0A0.36,0.36,0,1,1,-0.36,0A0.36,0.36,0,1,1,0.36,0Z", "symbolSize": 484, "symbolStrokeWidth": 1.5, "symbolOpacity": 1, "labelFontSize": 12, "labelOffset": 5, "columnPadding": 12, "labelColor": "#333333", "encode": {"symbols": {"update": {"fill": {"signal": "datum.value=='2022'?'#c23531':datum.value=='2023'?'#2f4554':length(datum.value)==4?'#cccccc':'#666666'"}}}, "labels": {"update": {"fill": {"signal": "length(datum.value)==4&&datum.value<'2022'?'#cccccc':'#333333'"}}}}}}}},
{"data": {"values": [{"s": "2019-2022最小值", "t": 0, "v": 0}, {"s": "2019-2022均值", "t": 0, "v": 0}]}, "mark": {"type": "line", "strokeWidth": 2}, "encoding": {"stroke": {"field": "s", "type": "nominal", "scale": {"domain": ["2019-2022最小值", "2019-2022均值"], "range": ["#666666", "#666666"]}, "legend": {"title": null, "orient": "none", "legendX": -46, "legendY": -38, "direction": "horizontal", "symbolType": "M-1,0L1,0M0.36,0A0.36,0.36,0,1,1,-0.36,0A0.36,0.36,0,1,1,0.36,0Z", "symbolSize": 484, "symbolStrokeWidth": 1.5, "symbolOpacity": 1, "labelFontSize": 12, "labelOffset": 5, "columnPadding": 12, "labelColor": "#333333", "encode": {"symbols": {"update": {"fill": {"signal": "'#666666'"}}}}}}}},
{"data": {"values": [{"t": 0, "v": -68, "lab": "-68"}]}, "mark": {"type": "text", "align": "right", "dx": -8, "dy": -5, "fontSize": 15, "fontWeight": "bold", "color": "#2f3f4f"}, "encoding": {"text": {"field": "lab"}}},
{"data": {"values": [{"t": 54, "v": -478, "lab": "11-06"}]}, "mark": {"type": "text", "baseline": "middle", "dy": 13, "fontSize": 15, "fontWeight": "bold", "color": "#2f3f4f"}, "encoding": {"text": {"field": "lab"}}}
]
}
],
"config": {
"font": "Noto Sans CJK SC",
"view": {"stroke": null},
"title": {"font": "Liberation Serif, Noto Sans CJK SC", "fontSize": 16, "fontWeight": "bold", "color": "#333333", "anchor": "start", "frame": "group", "dx": -51, "offset": 6},
"axis": {"labelFontSize": 12, "labelColor": "#666666", "domainColor": "#333333", "tickColor": "#333333", "tickSize": 5, "gridColor": "#e8e8e8", "labelFlush": false, "labelOverlap": false}
}
}
